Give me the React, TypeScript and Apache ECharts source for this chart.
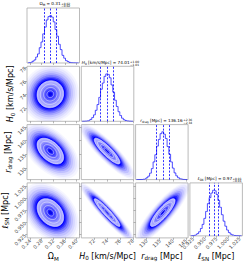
import React, { useEffect, useRef } from "react";
import * as echarts from "echarts";

// ---------- data ----------
const AXIS_NAMES = [
  "{t|Ω}{s|M}",
  "{i|H}{s|0}{t| [km/s/Mpc]}",
  "{i|r}{s|drag}{t| [Mpc]}",
  "{i|ℓ}{s|SN}{t| [Mpc]}",
];
const RANGES = [
  [0.23, 0.41],
  [70.0, 78.15],
  [125.8, 145.8],
  [0.918, 1.031],
];
const TICKS = [
  [0.24, 0.28, 0.32, 0.36, 0.4],
  [72, 74, 76, 78],
  [130, 135, 140, 145],
  [0.925, 0.95, 0.975, 1.0, 1.025],
];
const TICK_LABELS = [
  ["0.24", "0.28", "0.32", "0.36", "0.40"],
  ["72", "74", "76", "78"],
  ["130", "135", "140", "145"],
  ["0.925", "0.950", "0.975", "1.000", "1.025"],
];
const MEANS = [0.31, 74.01, 136.16, 0.97];
const SIGMAS = [0.0228, 1.0, 2.35, 0.0143];
const QUANTILES = [
  [0.29, 0.31, 0.33],
  [73.0, 74.01, 75.01],
  [133.82, 136.16, 138.52],
  [0.956, 0.97, 0.984],
];
const VALUE_TEXT = ["0.31", "74.01", "136.16", "0.97"];
const ERR_PLUS = ["0.02", "1.00", "2.36", "0.01"];
const ERR_MINUS = ["0.02", "1.01", "2.34", "0.01"];

const HIST_OMEGA = [0.3, 0.9, 1.6, 3.7, 6.5, 12.5, 19, 32, 44, 61, 75, 90, 97, 99, 96, 86, 70, 56, 39, 28, 16, 10, 5, 3, 1.2, 0.6, 0.3, 0.1, 0, 0];
const HIST_H0 = [0.05, 0.15, 0.4, 0.9, 2.1, 4, 8, 13.5, 23, 35, 50, 67, 80, 94, 99, 98, 91, 76, 61, 44, 31, 20, 12, 6.5, 3.3, 1.6, 0.7, 0.3, 0.1, 0.03];
const HIST_RDRAG = [0, 0.04, 0.1, 0.3, 0.7, 1.7, 3.8, 7.2, 13.5, 23, 37, 52, 70, 84, 96, 100, 95, 86, 69, 53, 37, 24, 14, 7.8, 4, 1.8, 0.8, 0.3, 0.1, 0.03];
const HIST_LSN = [0.2, 0.5, 1.2, 2.6, 5, 9, 16, 25, 38, 53, 70, 83, 93, 99, 98, 90, 77, 62, 46, 32, 21, 12.7, 7.3, 3.8, 1.9, 0.9, 0.4, 0.15, 0.05, 0.01];
const HISTS = [HIST_OMEGA, HIST_H0, HIST_RDRAG, HIST_LSN];

// [row param, column param, correlation]
const CORRELATIONS = [
  [1, 0, 0.05],
  [2, 0, -0.5],
  [3, 0, -0.35],
  [2, 1, -0.88],
  [3, 1, -0.94],
  [3, 2, 0.86],
];

// ---------- styling ----------
const BLUE = "#0000ff";
const FONT = "DejaVu Sans";
const FILL_LAYERS = [
  { r: 4.3, fill: "rgba(0,0,255,0.04)" },
  { r: 4.0, fill: "rgba(0,0,255,0.05)" },
  { r: 3.7, fill: "rgba(0,0,255,0.07)" },
  { r: 3.4, fill: "rgba(0,0,255,0.1)" },
  { r: 3.1, fill: "rgba(0,0,255,0.15)" },
  { r: 2.85, fill: "rgba(0,0,255,0.22)" },
  { r: 2.6, fill: "rgba(0,0,255,0.35)" },
  { r: 2.4, fill: "rgba(0,0,255,0.55)" },
  { r: 2.2, fill: "#0000ff" },
  { r: 2.0, fill: "#b4b4ff" },
  { r: 1.75, fill: "#a4a4ff" },
  { r: 1.5, fill: "#9090ff" },
  { r: 1.25, fill: "#7878ff" },
  { r: 1.0, fill: "#5c5cff" },
  { r: 0.75, fill: "#4040ff" },
  { r: 0.5, fill: "#2020ff" },
  { r: 0.25, fill: "#0808e8" },
];
const CONTOUR_LEVELS = [0.5, 1.0, 1.5, 2.0];
const CONTOUR_COLOR = "rgba(240,240,255,0.95)";

const PANEL_LEFT = 27;
const PANEL_TOP = 8;
const PANEL_W = 52.5;
const PANEL_H = 55;
const STEP_X = 54.3;
const STEP_Y = 58.3;

function rich(fs: number) {
  return {
    t: { fontSize: fs, fontFamily: FONT, color: "#000", lineHeight: fs * 1.3 },
    i: { fontSize: fs, fontFamily: FONT, fontStyle: "italic", color: "#000", lineHeight: fs * 1.3 },
    s: { fontSize: fs * 0.7, fontFamily: FONT, color: "#000", verticalAlign: "bottom", lineHeight: fs * 1.3 },
  };
}

function labelFormatter(k: number) {
  return (v: number) => {
    const idx = TICKS[k].findIndex((t) => Math.abs(t - v) < 1e-9);
    return idx >= 0 ? TICK_LABELS[k][idx] : "";
  };
}

export default function App() {
  const ref = useRef<HTMLDivElement>(null);
  useEffect(() => {
    if (!ref.current) return;
    const chart = echarts.init(ref.current, null, { renderer: "svg" });
    const grids: any[] = [];
    const xAxes: any[] = [];
    const yAxes: any[] = [];
    const series: any[] = [];
    const graphics: any[] = [];
    let g = 0;
    for (let i = 0; i < 4; i++) {
      for (let j = 0; j <= i; j++) {
        const left = PANEL_LEFT + j * STEP_X;
        const top = PANEL_TOP + i * STEP_Y;
        grids.push({
          left, top, width: PANEL_W, height: PANEL_H,
          show: true, borderColor: "#aaaaaa", borderWidth: 0.8,
          backgroundColor: "#fff", containLabel: false,
        });
        const bottom = i === 3;
        xAxes.push({
          type: "value", gridIndex: g, min: RANGES[j][0], max: RANGES[j][1],
          axisLine: { show: false },
          splitLine: { show: false },
          axisTick: { show: true, customValues: TICKS[j], length: 2, lineStyle: { color: "#888", width: 0.6 } },
          axisLabel: {
            show: bottom, customValues: TICKS[j], formatter: labelFormatter(j),
            rotate: 45, fontSize: 5, color: "#444", fontFamily: FONT, margin: 2,
          },
          name: bottom ? AXIS_NAMES[j] : "",
          nameLocation: "middle", nameGap: 13,
          nameTextStyle: { rich: rich(8) },
        });
        if (i === j) {
          yAxes.push({
            type: "value", gridIndex: g, min: 0, max: 115,
            axisLine: { show: false }, splitLine: { show: false },
            axisTick: { show: false }, axisLabel: { show: false },
          });
          const [lo, hi] = RANGES[i];
          const h = HISTS[i];
          const w = (hi - lo) / h.length;
          series.push({
            type: "line", xAxisIndex: g, yAxisIndex: g, step: "middle",
            symbol: "none", animation: false,
            data: h.map((c, k) => [lo + w * (k + 0.5), c]),
            lineStyle: { color: BLUE, width: 0.7 },
            markLine: {
              silent: true, symbol: ["none", "none"], animation: false,
              label: { show: false },
              lineStyle: { type: [2, 1.5], color: BLUE, width: 0.8 },
              data: QUANTILES[i].map((q) => ({ xAxis: q })),
            },
          });
          // title
          const cx = left + PANEL_W / 2;
          const fs = 4.2;
          const mainText = AXIS_NAMES[i] + "{t| = " + VALUE_TEXT[i] + "}";
          const plain = ["ΩM", "H0 [km/s/Mpc]", "rdrag [Mpc]", "ℓSN [Mpc]"][i] + " = " + VALUE_TEXT[i];
          const W = plain.length * fs * 0.58;
          const S = 4 * fs * 0.7 * 0.6;
          const split = cx + (W - S) / 2;
          graphics.push({
            type: "text", x: split, y: top - 1.5, silent: true,
            style: { text: mainText, rich: rich(fs), align: "right", verticalAlign: "bottom", fontSize: fs, fontFamily: FONT },
          });
          graphics.push({
            type: "text", x: split + 0.5, y: top - 4.6, silent: true,
            style: { text: "+" + ERR_PLUS[i], align: "left", verticalAlign: "middle", fontSize: fs * 0.7, fontFamily: FONT, fill: "#000" },
          });
          graphics.push({
            type: "text", x: split + 0.5, y: top - 1.8, silent: true,
            style: { text: "−" + ERR_MINUS[i], align: "left", verticalAlign: "middle", fontSize: fs * 0.7, fontFamily: FONT, fill: "#000" },
          });
        } else {
          const leftCol = j === 0;
          yAxes.push({
            type: "value", gridIndex: g, min: RANGES[i][0], max: RANGES[i][1],
            axisLine: { show: false }, splitLine: { show: false },
            axisTick: { show: true, customValues: TICKS[i], length: 2, lineStyle: { color: "#888", width: 0.6 } },
            axisLabel: {
              show: leftCol, customValues: TICKS[i], formatter: labelFormatter(i),
              rotate: 45, fontSize: 5, color: "#444", fontFamily: FONT, margin: 2,
            },
            name: leftCol ? AXIS_NAMES[i] : "",
            nameLocation: "middle", nameGap: 11, nameRotate: 90,
            nameTextStyle: { rich: rich(8) },
          });
          const corr = CORRELATIONS.find((c) => c[0] === i && c[1] === j)![2];
          const mx = MEANS[j], my = MEANS[i], sx = SIGMAS[j], sy = SIGMAS[i];
          series.push({
            type: "custom", xAxisIndex: g, yAxisIndex: g, coordinateSystem: "cartesian2d",
            clip: true, silent: true, animation: false,
            data: [[mx, my]],
            encode: { x: 0, y: 1 },
            renderItem: (_p: any, api: any) => {
              const ell = (r: number) => {
                const pts: number[][] = [];
                const n = 64;
                const q = Math.sqrt(1 - corr * corr);
                for (let t = 0; t < n; t++) {
                  const th = (2 * Math.PI * t) / n;
                  const c = Math.cos(th), s = Math.sin(th);
                  pts.push(api.coord([mx + r * sx * c, my + r * sy * (corr * c + q * s)]));
                }
                return pts;
              };
              const children: any[] = [];
              for (const L of FILL_LAYERS) {
                children.push({ type: "polygon", shape: { points: ell(L.r) }, style: { fill: L.fill } });
              }
              for (const r of CONTOUR_LEVELS) {
                children.push({ type: "polygon", shape: { points: ell(r) }, style: { fill: "none", stroke: CONTOUR_COLOR, lineWidth: 0.6 } });
              }
              return { type: "group", children };
            },
          });
        }
        g++;
      }
    }
    chart.setOption({
      animation: false,
      backgroundColor: "#fff",
      textStyle: { fontFamily: FONT },
      grid: grids,
      xAxis: xAxes,
      yAxis: yAxes,
      series,
      graphic: graphics,
    });
    return () => chart.dispose();
  }, []);
  return (
    <div
      ref={ref}
      style={{ position: "absolute", left: 0, top: 0, width: 248, height: 263 }}
    />
  );
}
